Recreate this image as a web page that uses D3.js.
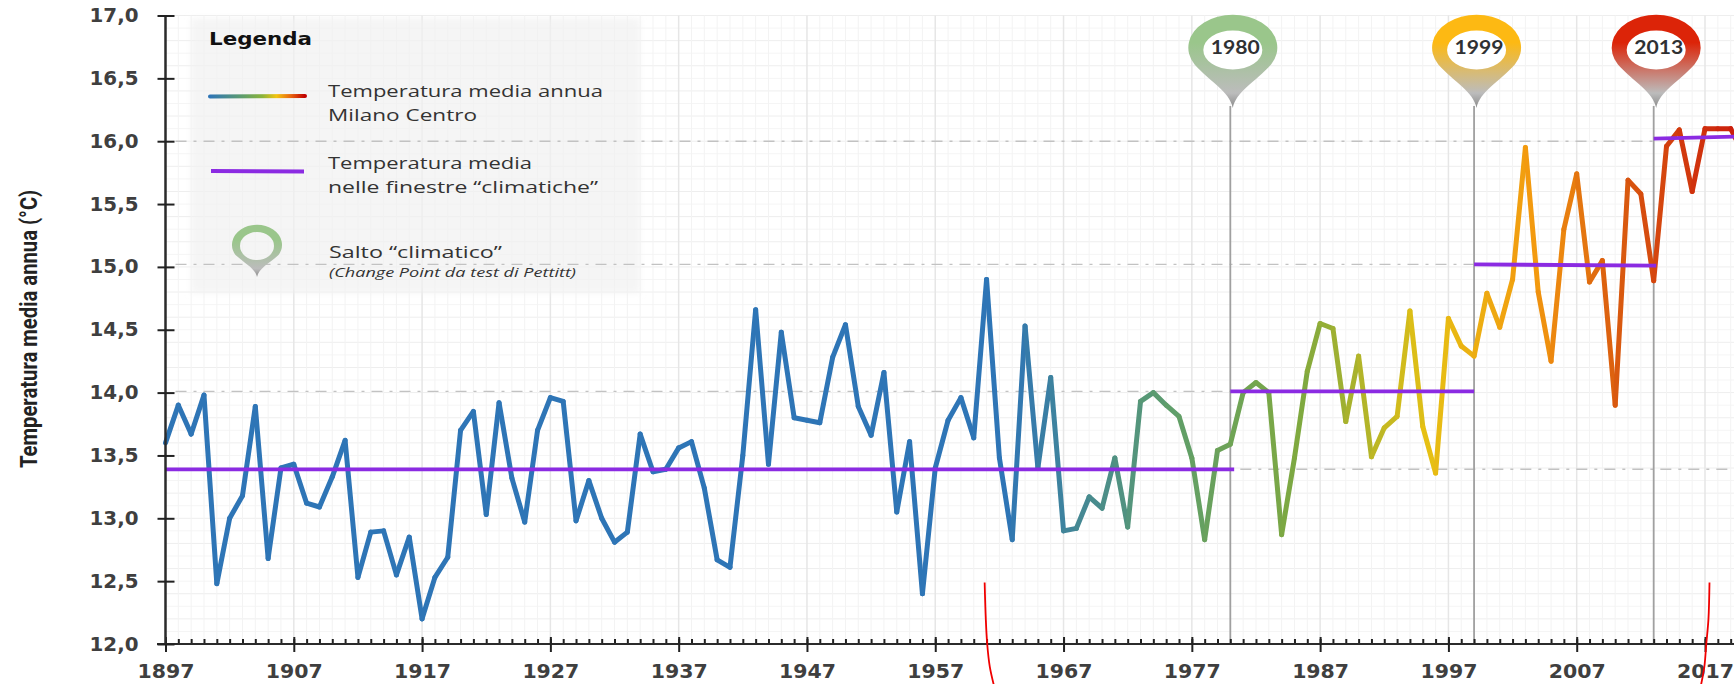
<!DOCTYPE html>
<html><head><meta charset="utf-8">
<script src="https://cdn.jsdelivr.net/npm/d3@7"></script>
<style>html,body{margin:0;padding:0;background:#fff;overflow:hidden}svg{display:block}</style>
</head><body><svg id="c" width="1734" height="684"></svg>
<script>
const firstYear = 1897;
const temps = [13.6,13.9,13.67,13.98,12.48,13.0,13.18,13.89,12.68,13.4,13.43,13.12,13.09,13.33,13.62,12.53,12.89,12.9,12.55,12.85,
12.2,12.53,12.69,13.7,13.85,13.03,13.92,13.32,12.97,13.7,13.96,13.93,12.98,13.3,13.0,12.81,12.89,13.67,13.37,13.39,
13.56,13.61,13.24,12.67,12.61,13.5,14.66,13.43,14.48,13.8,13.78,13.76,14.28,14.54,13.89,13.66,14.16,13.05,13.61,12.4,
13.4,13.78,13.96,13.64,14.9,13.48,12.83,14.53,13.4,14.12,12.9,12.92,13.17,13.08,13.48,12.93,13.93,14.0,13.9,13.81,
13.48,12.83,13.54,13.59,14.0,14.08,14.0,12.87,13.48,14.17,14.55,14.51,13.77,14.29,13.49,13.72,13.81,14.65,13.73,13.36,
14.59,14.37,14.29,14.79,14.52,14.9,15.95,14.8,14.25,15.3,15.74,14.88,15.05,13.9,15.69,15.58,14.89,15.96,16.09,15.6,
16.1,16.1,16.1,15.9];
const years = temps.map((_, i) => firstYear + i);
const yTickValues = [12,12.5,13,13.5,14,14.5,15,15.5,16,16.5,17];
const xLabelYears = [1897,1907,1917,1927,1937,1947,1957,1967,1977,1987,1997,2007,2017];
const windows = [
  {from:1897, to:1980.3, a:13.39, b:13.39},
  {from:1980, to:1999, a:14.01, b:14.01},
  {from:1999, to:2013.2, a:15.02, b:15.01},
  {from:2013, to:2021, a:16.02, b:16.04}
];
const guideLines = [
  {from:1897, to:2013, v:16.0},
  {from:1897, to:1999, v:15.02},
  {from:1897, to:1980, v:14.01},
  {from:1980, to:2021, v:13.39}
];
const pins = [
  {year:1980, colour:"#9ac68b"},
  {year:1999, colour:"#fdb913"},
  {year:2013, colour:"#dc2408"}
];
const colourYears = [1897,1962,1975,1985,1995,2003,2010,2019];
const colourStops = ["#2e75b6","#2e75b6","#5f9e6a","#7fa93f","#e6c013","#f39a0f","#d9590f","#cc1f0c"];
const redCurveA = [[1960.85,12.49],[1960.94,12.2],[1961.05,12.0],[1961.25,11.82],[1961.55,11.68]];
const redCurveB = [[2017.35,12.49],[2017.27,12.2],[2017.1,12.0],[2016.95,11.82],[2016.7,11.68]];
const legendLines = ["Temperatura media annua","Milano Centro","Temperatura media","nelle finestre “climatiche”","Salto “climatico”","(Change Point da test di Pettitt)"];

const svg = d3.select("#c");
const x = d3.scaleLinear().domain([1897,2017]).range([165.5,1705]);
const y = d3.scaleLinear().domain([12,17]).range([644,15.5]);
const colour = d3.scaleLinear().domain(colourYears).range(colourStops).clamp(true);
const W = 1734;

const defs = svg.append("defs");
const blur = defs.append("filter").attr("id","soft").attr("x","-5%").attr("y","-5%").attr("width","110%").attr("height","110%");
blur.append("feGaussianBlur").attr("stdDeviation",3);
pins.concat([{year:"legend",colour:"#9ac68b"}]).forEach(p => {
  const g = defs.append("linearGradient").attr("id","pin"+p.year).attr("x1",0).attr("x2",0).attr("y1",0).attr("y2",1);
  g.append("stop").attr("offset","0%").attr("stop-color",p.colour);
  g.append("stop").attr("offset","30%").attr("stop-color",p.colour);
  g.append("stop").attr("offset","84%").attr("stop-color","#bcbcbc");
  g.append("stop").attr("offset","100%").attr("stop-color","#8a8a8a");
});
const legendGrad = defs.append("linearGradient").attr("id","legendLine");
[["0%","#2e75b6"],["35%","#5f9e6a"],["55%","#8ab33a"],["70%","#f2c40f"],["85%","#e8650f"],["100%","#c00000"]]
  .forEach(s => legendGrad.append("stop").attr("offset",s[0]).attr("stop-color",s[1]));

// grid
const grid = svg.append("g");
d3.range(0,51).forEach(i => {
  const v = 12 + i/10;
  grid.append("line").attr("x1",x(1897)).attr("x2",W).attr("y1",y(v)).attr("y2",y(v))
    .attr("stroke", i%2===0 ? "#eeeeee" : "#f5f5f5").attr("stroke-width",1);
});
d3.range(1897,2020).forEach(yr => {
  const major = (yr-1897)%10===0;
  grid.append("line").attr("x1",x(yr)).attr("x2",x(yr)).attr("y1",y(17)).attr("y2",y(12))
    .attr("stroke", major ? "#e6e6e6" : "#f3f3f3").attr("stroke-width", major?1.5:1);
});

// legend panel
svg.append("rect").attr("x",191).attr("y",18).attr("width",449).attr("height",275)
  .attr("fill","#f1f1f1").attr("fill-opacity",0.7).attr("filter","url(#soft)");

// guide lines
svg.append("g").selectAll("line").data(guideLines).join("line")
  .attr("x1",d=>x(d.from)+10).attr("x2",d=>x(d.to)).attr("y1",d=>y(d.v)).attr("y2",d=>y(d.v))
  .attr("stroke","#c2c2c2").attr("stroke-width",1.4).attr("stroke-dasharray","11 7 3 7");

// change-point verticals
svg.append("g").selectAll("line").data(pins).join("line")
  .attr("x1",d=>x(d.year)).attr("x2",d=>x(d.year)).attr("y1",106).attr("y2",y(12))
  .attr("stroke","#a0a0a0").attr("stroke-width",1.8);

// temperature line, coloured along time
svg.append("g").attr("fill","none").attr("stroke-width",5).attr("stroke-linecap","round").attr("stroke-linejoin","round")
  .selectAll("line").data(d3.pairs(years.map((yr,i)=>({yr,v:temps[i]})))).join("line")
  .attr("x1",d=>x(d[0].yr)).attr("y1",d=>y(d[0].v)).attr("x2",d=>x(d[1].yr)).attr("y2",d=>y(d[1].v))
  .attr("stroke",d=>colour(d[0].yr));

// window means
svg.append("g").selectAll("line").data(windows).join("line")
  .attr("x1",d=>x(d.from)).attr("x2",d=>x(d.to)).attr("y1",d=>y(d.a)).attr("y2",d=>y(d.b))
  .attr("stroke","#8b2be2").attr("stroke-width",3.8);

// axes
const xMinor = d3.axisTop(x).tickValues(d3.range(1897,2020)).tickSize(5).tickFormat("");
const xg = svg.append("g").attr("transform",`translate(0,${y(12)})`).call(xMinor);
xg.select(".domain").remove();
xg.selectAll("line").attr("stroke","#222").attr("stroke-width",2);
svg.append("line").attr("x1",157).attr("x2",W).attr("y1",y(12)).attr("y2",y(12)).attr("stroke","#2b2b2b").attr("stroke-width",2);
const xMajor = d3.axisBottom(x).tickValues(xLabelYears).tickSize(8).tickPadding(13).tickFormat(d3.format("d"));
const xm = svg.append("g").attr("transform",`translate(0,${y(12)})`).call(xMajor);
xm.select(".domain").remove();
xm.selectAll("line").attr("stroke","#222").attr("stroke-width",2).attr("y1",-7);
xm.selectAll("text").attr("font-family","DejaVu Sans").attr("font-weight","bold").attr("font-size",19)
  .attr("fill","#3f3f3f").attr("textLength",57).attr("lengthAdjust","spacingAndGlyphs");
const yAxis = d3.axisLeft(y).tickValues(yTickValues).tickSize(8).tickPadding(19).tickFormat(d=>d3.format(".1f")(d).replace(".",","));
const yg = svg.append("g").attr("transform","translate(165.5,0)").call(yAxis);
yg.select(".domain").attr("stroke","#2b2b2b").attr("stroke-width",2.5).attr("d",`M0,${y(17)}V${y(12)}`);
yg.selectAll("line").attr("stroke","#222").attr("stroke-width",2).attr("x2",-8).attr("x1",9);
yg.selectAll("text").attr("font-family","DejaVu Sans").attr("font-weight","bold").attr("font-size",19)
  .attr("fill","#3f3f3f").attr("textLength",49).attr("lengthAdjust","spacingAndGlyphs");

// y title
svg.append("text").attr("transform","translate(37,329) rotate(-90)").attr("text-anchor","middle")
  .attr("font-family","Roboto").attr("font-weight","bold").attr("font-size",24).attr("fill","#222")
  .attr("textLength",278).attr("lengthAdjust","spacingAndGlyphs").text("Temperatura media annua (°C)");

// pin shape
function pinPath(cx,cy,rx,ry,rix,riy,tipY,holeDy){
  const h = tipY-cy;
  return `M${cx},${tipY}C${cx-rx*0.07},${cy+h*0.73} ${cx-rx*0.5},${cy+h*0.57} ${cx-rx*0.86},${cy+ry*0.5}`+
    `A${rx},${ry} 0 1 1 ${cx+rx*0.86},${cy+ry*0.5}C${cx+rx*0.5},${cy+h*0.57} ${cx+rx*0.07},${cy+h*0.73} ${cx},${tipY}Z`+
    `M${cx-rix},${cy+holeDy}A${rix},${riy} 0 1 0 ${cx+rix},${cy+holeDy}A${rix},${riy} 0 1 0 ${cx-rix},${cy+holeDy}Z`;
}
const pg = svg.append("g").selectAll("g").data(pins).join("g");
pg.append("ellipse").attr("cx",d=>x(d.year)+2.5).attr("cy",50).attr("rx",31).attr("ry",21).attr("fill","#fff");
pg.append("path").attr("fill-rule","evenodd").attr("fill",d=>`url(#pin${d.year})`)
  .attr("d",d=>pinPath(x(d.year)+2.5,48,44.5,33,29.5,19.5,108,2));
pg.append("text").attr("x",d=>x(d.year)+5).attr("y",54).attr("text-anchor","middle")
  .attr("font-family","Lato").attr("font-weight","bold").attr("font-size",18).attr("fill","#2f3133")
  .attr("textLength",49).attr("lengthAdjust","spacingAndGlyphs").text(d=>d.year);

// legend
const lg = svg.append("g");
lg.append("text").attr("x",209).attr("y",45).attr("font-family","DejaVu Sans").attr("font-weight","bold")
  .attr("font-size",17).attr("fill","#111").attr("textLength",103).attr("lengthAdjust","spacingAndGlyphs").text("Legenda");
lg.append("line").attr("x1",210).attr("x2",305).attr("y1",96.5).attr("y2",96).attr("stroke","url(#legendLine)").attr("stroke-width",4).attr("stroke-linecap","round");
lg.append("line").attr("x1",211).attr("x2",304).attr("y1",171).attr("y2",171.5).attr("stroke","#8b2be2").attr("stroke-width",3.8);
const txt = [[328,97,275,17],[328,121,149,17],[328,169,204,17],[328,193,270,17],[329,258,173,17]];
txt.forEach((t,i)=> lg.append("text").attr("x",t[0]).attr("y",t[1]).attr("font-family","Open Sans").attr("font-size",t[3])
  .attr("fill","#333").attr("textLength",t[2]).attr("lengthAdjust","spacingAndGlyphs").text(legendLines[i]));
lg.append("text").attr("x",329).attr("y",277).attr("font-family","Open Sans").attr("font-style","italic").attr("font-size",12.5)
  .attr("fill","#333").attr("textLength",247).attr("lengthAdjust","spacingAndGlyphs").text(legendLines[5]);
lg.append("path").attr("fill-rule","evenodd").attr("fill","url(#pinlegend)").attr("d",pinPath(257,245,25,20,17,14,277,1));

// red hand-drawn strokes
const red = d3.line().x(d=>x(d[0])).y(d=>y(d[1])).curve(d3.curveCatmullRom);
[redCurveA,redCurveB].forEach(c => svg.append("path").attr("d",red(c)).attr("fill","none").attr("stroke","#f00000").attr("stroke-width",1.8));
</script></body></html>
